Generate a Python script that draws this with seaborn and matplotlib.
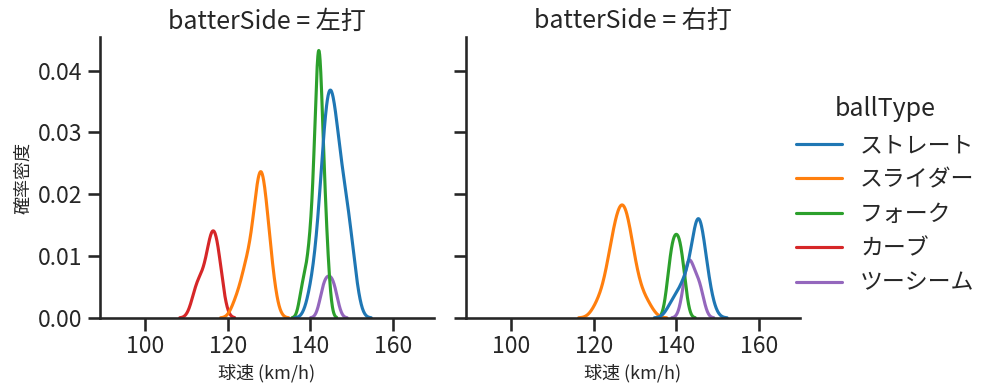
import numpy as np
import pandas as pd
import matplotlib.pyplot as plt
import seaborn as sns

sides = ["左打", "右打"]
ball_types = ["ストレート", "スライダー", "フォーク", "カーブ", "ツーシーム"]
speed_ticks = [100, 120, 140, 160]

# pitch speeds (km/h), left-handed batters
left_straight = [140, 141, 142, 142, 143, 143, 143, 143, 144, 144, 144, 144, 144, 144,
                 145, 145, 145, 145, 145, 145, 146, 146, 146, 146, 146,
                 147, 147, 147, 147, 148, 148, 148, 149, 149, 149, 150, 150, 151]
left_slider = [122, 124, 124, 125, 126, 126, 127, 127, 127, 128, 128, 128, 128, 128,
               129, 129, 129, 130, 130, 131]
left_fork = [138, 139, 140, 140, 141, 141, 141, 142, 142, 142, 142, 142, 142, 142, 142, 142,
             143, 143, 143, 143, 144, 144]
left_curve = [112, 113, 114, 115, 116, 116, 116, 117, 117, 118, 118]
left_twoseam = [143, 144, 145, 146]

# pitch speeds (km/h), right-handed batters
right_straight = [139, 141, 142, 143, 144, 145, 145, 145, 145, 146, 146, 146, 147, 148]
right_slider = [121, 123, 124, 124, 125, 125, 126, 126, 126, 127, 127, 127,
                128, 128, 128, 129, 129, 130, 131, 133]
right_fork = [138, 139, 139, 140, 140, 141, 141, 142]
right_twoseam = [142, 143, 143, 144, 145, 146]

data = {
    ("左打", "ストレート"): left_straight,
    ("左打", "スライダー"): left_slider,
    ("左打", "フォーク"): left_fork,
    ("左打", "カーブ"): left_curve,
    ("左打", "ツーシーム"): left_twoseam,
    ("右打", "ストレート"): right_straight,
    ("右打", "スライダー"): right_slider,
    ("右打", "フォーク"): right_fork,
    ("右打", "ツーシーム"): right_twoseam,
}
rows = []
for (side, bt), speeds in data.items():
    for s in speeds:
        rows.append({"batterSide": side, "ballType": bt, "speed": s})
df = pd.DataFrame(rows)

sns.set_context("talk")
sns.set_style("ticks")
plt.rcParams["font.family"] = ["Noto Sans CJK JP", "DejaVu Sans"]

g = sns.displot(data=df, x="speed", hue="ballType", col="batterSide", kind="kde",
                hue_order=ball_types, col_order=sides, height=4, aspect=1)
g.set(xlim=(89, 170), xticks=speed_ticks)
g.set_axis_labels("球速 (km/h)", "確率密度", fontsize=13)

fig = g.figure
fig.set_size_inches(9.95, 3.91)
fig.subplots_adjust(left=0.1005, right=0.804, bottom=0.187, top=0.905, wspace=0.096)

fig.savefig("out.png", dpi=100)
